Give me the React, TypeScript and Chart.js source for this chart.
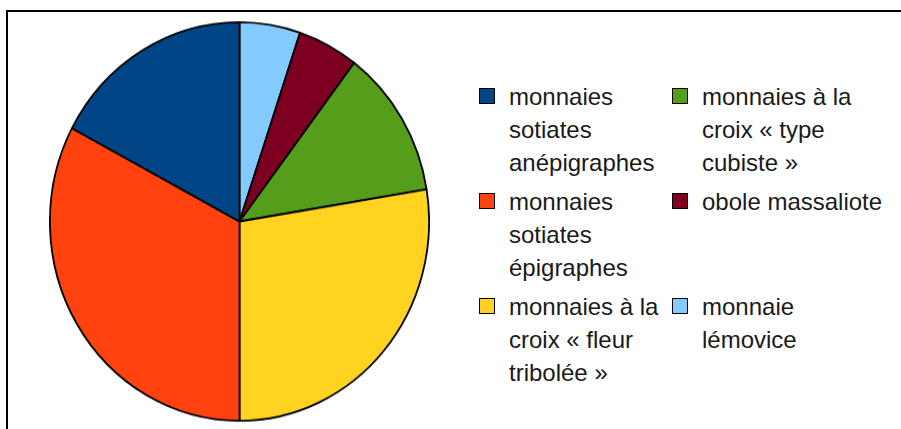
import React, { useEffect, useRef } from "react";
import { Chart, registerables } from "chart.js";

Chart.register(...registerables);

// Legend order (as in the original LibreOffice chart)
const labels: string[] = [
  "monnaies sotiates anépigraphes",
  "monnaies sotiates épigraphes",
  "monnaies à la croix «\u00a0fleur tribolée\u00a0»",
  "monnaies à la croix «\u00a0type cubiste\u00a0»",
  "obole massaliote",
  "monnaie lémovice",
];
const values: number[] = [10, 19, 16, 7, 3, 3];
const colors: string[] = ["#004586", "#ff420e", "#ffd320", "#579d1c", "#7e0021", "#83caff"];

export default function App() {
  const ref = useRef<HTMLCanvasElement | null>(null);

  useEffect(() => {
    if (!ref.current) return;
    // pie drawn clockwise from the top: reverse of legend order
    const pieLabels = [...labels].reverse();
    const pieValues = [...values].reverse();
    const pieColors = [...colors].reverse();
    const chart = new Chart(ref.current, {
      type: "pie",
      data: {
        labels: pieLabels,
        datasets: [
          {
            data: pieValues,
            backgroundColor: pieColors,
            borderColor: "#000000",
            borderWidth: 1.8,
          },
        ],
      },
      options: {
        animation: false,
        responsive: false,
        maintainAspectRatio: false,
        layout: { padding: 0 },
        plugins: {
          legend: { display: false },
          tooltip: { enabled: false },
        },
      },
    });
    return () => chart.destroy();
  }, []);

  return (
    <div
      style={{
        position: "fixed",
        left: 0,
        top: 0,
        width: 901,
        height: 429,
        background: "#ffffff",
        overflow: "hidden",
        fontFamily: "'Liberation Sans', Arial, sans-serif",
      }}
    >
      <div
        style={{
          position: "absolute",
          left: 6,
          top: 10,
          width: 900,
          height: 425,
          borderTop: "2px solid #000",
          borderLeft: "2px solid #000",
        }}
      />
      <div
        style={{
          position: "absolute",
          left: 49,
          top: 31,
          width: 381,
          height: 381,
          transform: "scaleY(1.051)",
          transformOrigin: "center center",
        }}
      >
        <canvas ref={ref} width={381} height={381} style={{ display: "block" }} />
      </div>
      <div
        style={{
          position: "absolute",
          left: 479,
          top: 80,
          display: "grid",
          gridAutoFlow: "column",
          gridTemplateRows: "repeat(3, auto)",
          gridTemplateColumns: "193px 220px",
          rowGap: 6,
        }}
      >
        {labels.map((l, i) => (
          <div key={l} style={{ display: "flex", alignItems: "flex-start" }}>
            <div
              style={{
                width: 14,
                height: 14,
                marginTop: 8,
                background: colors[i],
                border: "1px solid #000",
                flex: "none",
              }}
            />
            <div
              style={{
                marginLeft: 14,
                width: i < 3 ? 155 : 187,
                flex: "none",
                fontSize: 24,
                lineHeight: "33px",
                color: "#1a1a1a",
              }}
            >
              {l}
            </div>
          </div>
        ))}
      </div>
    </div>
  );
}
